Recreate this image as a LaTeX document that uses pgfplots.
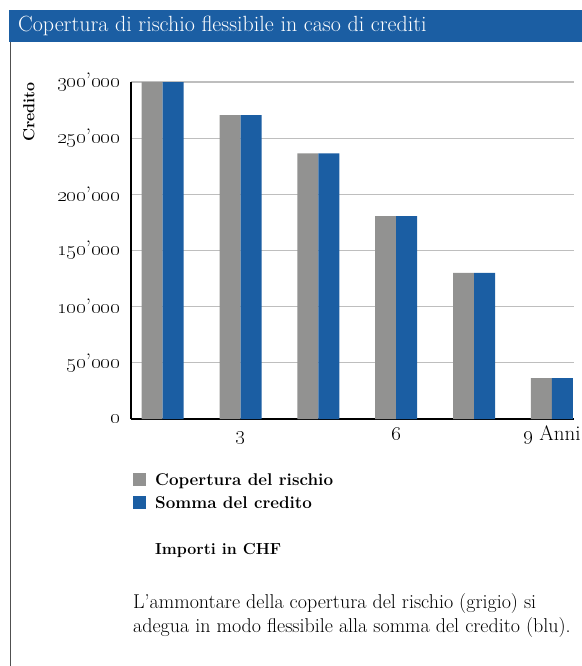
\documentclass[border=0pt]{standalone}
\usepackage{pgfplots}
\pgfplotsset{compat=1.18}
\definecolor{barblue}{RGB}{27,94,163}
\definecolor{bargray}{RGB}{146,146,145}
\definecolor{gridgray}{RGB}{190,190,190}
\definecolor{framegray}{RGB}{80,80,80}
\pgfplotsset{sqlegend/.style={legend image code/.code={\fill[##1] (0bp,-4.5bp) rectangle (13bp,8.5bp);}}}

\begin{document}
\begin{tikzpicture}[x=1bp,y=1bp]
\useasboundingbox (0,0) rectangle (582,-666);
% title bar and left frame
\fill[barblue] (9,-10) rectangle (582,-42.5);
\draw[framegray, line width=1.5bp] (10.5,-42.5) -- (10.5,-666);
\node[anchor=base west, text=white, inner sep=0pt, font=\fontsize{22bp}{26bp}\selectfont]
  at (18,-32) {Copertura di rischio flessibile in caso di crediti};

\begin{axis}[
  at={(131bp,-419bp)}, anchor=south west,
  scale only axis, width=443bp, height=337bp,
  ybar=0pt, bar width=21bp,
  xmin=0.89, xmax=9.425,
  ymin=0, ymax=300000,
  axis x line*=bottom, axis y line*=left,
  axis line style={line width=1.3bp, black},
  xtick={3,6,9},
  xticklabels={\oldstylenums{3}, \oldstylenums{6}, \oldstylenums{9} Anni},
  ytick={0,50000,100000,150000,200000,250000,300000},
  yticklabels={\oldstylenums{0},
    \oldstylenums{50}’\oldstylenums{000},
    \oldstylenums{100}’\oldstylenums{000},
    \oldstylenums{150}’\oldstylenums{000},
    \oldstylenums{200}’\oldstylenums{000},
    \oldstylenums{250}’\oldstylenums{000},
    \oldstylenums{300}’\oldstylenums{000}},
  scaled y ticks=false,
  major tick length=0pt,
  ymajorgrids, grid style={gridgray, line width=1.2bp},
  tick label style={font=\fontsize{21bp}{24bp}\selectfont, inner sep=0pt},
  yticklabel style={anchor=east, xshift=-11bp},
  xticklabel style={anchor=base, yshift=-21bp},
  legend cell align=left,
  legend style={at={(axis description cs:0.0045,-0.1588)}, anchor=north west,
    draw=none, fill=none, inner sep=0pt, row sep=6bp, column sep=9bp,
    font=\bfseries\fontsize{17bp}{22bp}\selectfont,
    nodes={inner sep=0pt, text height=13bp, text depth=4bp}},
]
\addplot[fill=bargray, draw=none, sqlegend]
  coordinates {(1.5,300000) (3,270500) (4.5,236500) (6,180500) (7.5,130000) (9,36500)};
\addplot[fill=barblue, draw=none, sqlegend]
  coordinates {(1.5,300000) (3,270500) (4.5,236500) (6,180500) (7.5,130000) (9,36500)};
\legend{Copertura del rischio, Somma del credito}
\end{axis}

\node[rotate=90, anchor=east, inner sep=0pt, font=\bfseries\fontsize{16bp}{18bp}\selectfont]
  at (29,-82) {Credito};
\node[anchor=base west, inner sep=0pt, font=\bfseries\fontsize{16bp}{22bp}\selectfont]
  at (155,-554) {Importi in CHF};
\node[anchor=base west, inner sep=0pt, font=\fontsize{20bp}{24bp}\selectfont]
  at (133,-608) {L’ammontare della copertura del rischio (grigio) si};
\node[anchor=base west, inner sep=0pt, font=\fontsize{20bp}{24bp}\selectfont]
  at (133,-632) {adegua in modo flessibile alla somma del credito (blu).};
\end{tikzpicture}
\end{document}
